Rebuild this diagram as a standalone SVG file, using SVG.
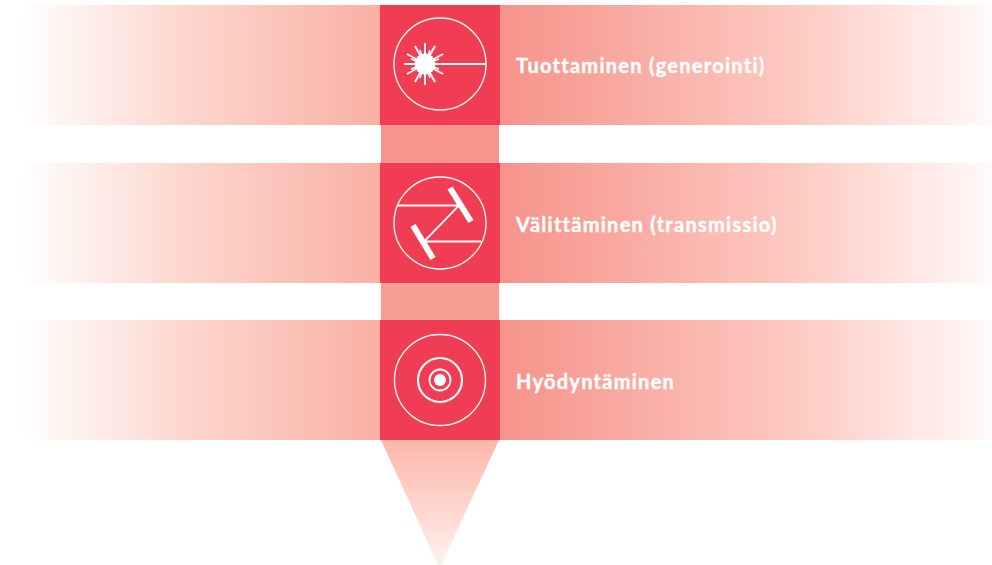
<svg xmlns="http://www.w3.org/2000/svg" width="992" height="565" viewBox="0 0 992 565">
<style>
.box{fill:#f03d53}
.lbl{font-family:"Lato","Liberation Sans",sans-serif;font-weight:700;font-size:20px;letter-spacing:1.27px;fill:#fff;stroke:#fff;stroke-width:0.4}
.ring{fill:none;stroke:#fff;stroke-width:1.3}
.ray{stroke:#fff;stroke-width:1.5}
.ray2{stroke:#fff;stroke-width:2}
.mirror{stroke:#fff;stroke-width:6}
.beam{stroke:#fff;stroke-width:1.8;fill:none}
</style>
<defs>
<linearGradient id="gl" gradientUnits="userSpaceOnUse" x1="20" y1="0" x2="380" y2="0"><stop offset="0" stop-color="#ffffff"/><stop offset="0.5" stop-color="#fcd3ca"/><stop offset="1" stop-color="#fab0a4"/></linearGradient>
<linearGradient id="gr" gradientUnits="userSpaceOnUse" x1="500" y1="0" x2="992" y2="0"><stop offset="0" stop-color="#f6938a"/><stop offset="0.594" stop-color="#fdc9c1"/><stop offset="1" stop-color="#fffafa"/></linearGradient>
<linearGradient id="gt" x1="0" y1="0" x2="0" y2="1"><stop offset="0" stop-color="#fcb6aa"/><stop offset="1" stop-color="#fef1ee"/></linearGradient>
</defs>
<g id="connectors">
<rect x="381" y="125" width="118" height="38" fill="#f6958b"/>
<rect x="381" y="283" width="118" height="37" fill="#f69d92"/>
<path d="M381 440H499L441 565H438Z" fill="url(#gt)"/>
</g>
<g id="node-generointi">
<rect x="20" y="5" width="360" height="120" fill="url(#gl)"/>
<rect x="500" y="5" width="492" height="120" fill="url(#gr)"/>
<rect class="box" x="380" y="5" width="120" height="120"/>
<circle class="ring" cx="440" cy="64" r="46"/>
<circle cx="425" cy="64" r="10.500" fill="#fff"/>
<line x1="425" y1="64" x2="486" y2="64" class="ray2"/>
<g class="ray2">
<line x1="404" y1="64" x2="446" y2="64"/>
<line x1="425" y1="43" x2="425" y2="85"/>
<line x1="415" y1="46" x2="435" y2="82"/>
<line x1="435" y1="46" x2="415" y2="82"/>
<line x1="407" y1="54" x2="443" y2="74"/>
<line x1="443" y1="54" x2="407" y2="74"/>
</g>
<g class="ray">
<line x1="411" y1="59" x2="439" y2="69"/>
<line x1="411" y1="69" x2="439" y2="59"/>
<line x1="420" y1="50" x2="430" y2="78"/>
<line x1="430" y1="50" x2="420" y2="78"/>
</g>
<text class="lbl" x="516" y="73">Tuottaminen (generointi)</text>
</g>
<g id="node-transmissio">
<rect x="20" y="163" width="360" height="120" fill="url(#gl)"/>
<rect x="500" y="163" width="492" height="120" fill="url(#gr)"/>
<rect class="box" x="380" y="163" width="120" height="120"/>
<circle class="ring" cx="440" cy="223" r="46"/>
<line class="mirror" x1="450" y1="188" x2="471" y2="221.500"/>
<line class="mirror" x1="413" y1="225.500" x2="433" y2="258.500"/>
<path class="beam" d="M397 205.500H459L424 241.500H481"/>
<text class="lbl" x="516" y="232">Välittäminen (transmissio)</text>
</g>
<g id="node-hyodyntaminen">
<rect x="20" y="320" width="360" height="120" fill="url(#gl)"/>
<rect x="500" y="320" width="492" height="120" fill="url(#gr)"/>
<rect class="box" x="380" y="320" width="120" height="120"/>
<circle class="ring" cx="440" cy="380" r="45.500"/>
<circle cx="440" cy="380" r="22" fill="none" stroke="#fff" stroke-width="2.200"/>
<circle cx="440" cy="380" r="10.500" fill="none" stroke="#fff" stroke-width="1.800"/>
<circle cx="440" cy="380" r="6" fill="#fff"/>
<text class="lbl" x="516" y="389">Hyödyntäminen</text>
</g>
</svg>
